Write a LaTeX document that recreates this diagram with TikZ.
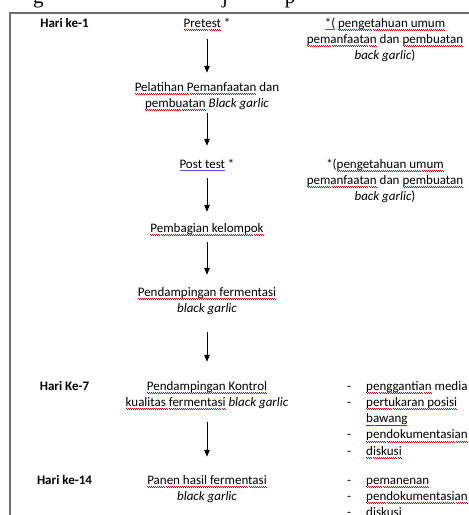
\documentclass[tikz,border=0pt]{standalone}
\usepackage{fontspec}
\setmainfont{Carlito}
\newfontfamily\capfont{Liberation Serif}
\usetikzlibrary{arrows.meta}
\definecolor{framegray}{RGB}{110,110,110}
\newsavebox\wbox
\newcommand\sqw[1]{\sbox\wbox{#1}\rlap{\color{red!85!black}\hbox to\wd\wbox{\xleaders\hbox{\rule[-2.6pt]{1pt}{0.55pt}\rule[-3.3pt]{1pt}{0.55pt}}\hfil}}\usebox\wbox}
\newcommand\blu[1]{\sbox\wbox{#1}\rlap{\color{blue!70!white}\rule[-2.4pt]{\wd\wbox}{0.7pt}}\usebox\wbox}
\newcommand\ctab[1]{\begin{tabular}[t]{@{}c@{}}#1\end{tabular}}
\newcommand\ltab[1]{\begin{tabular}[t]{@{}l@{}l@{}}#1\end{tabular}}
\newcommand\dsh{\makebox[19pt][l]{-}}
\tikzset{
  txt/.style={font=\fontsize{13}{16.3}\selectfont, inner sep=0pt, anchor=base, text=black},
  lst/.style={txt, anchor=base west},
  hari/.style={txt, font=\fontsize{13}{16.3}\selectfont\bfseries},
  arr/.style={line width=0.9pt, -{Triangle[width=5.5pt,length=7pt]}},
  frame/.style={line width=1.3pt, draw=framegray},
  capnode/.style={font=\capfont\fontsize{21}{24}\selectfont, inner sep=0pt, anchor=base}
}
\begin{document}
\begin{tikzpicture}[x=1pt,y=-1pt]
\useasboundingbox (0,0) rectangle (469,515);
% cropped caption above the frame
\begin{scope}
\clip (0,0) rectangle (469,11.5);
\node[capnode] (cg) at (38.5,3.2) {g};
\node[capnode] (cj) at (225,3.2) {j};
\node[capnode] (cp) at (290,3.2) {p};
\end{scope}
% frame
\draw[frame] (10,516) -- (10,13) -- (470,13);
% day labels
\node[hari] (h1) at (64.5,27) {Hari ke-1};
\node[hari] (h7) at (64.5,390) {Hari Ke-7};
\node[hari] (h14) at (64.5,484) {Hari ke-14};
% central steps
\node[txt] (pre) at (207,27) {\ctab{\sqw{Pretest} *}};
\node[txt] (pel) at (207,91) {\ctab{\sqw{Pelatihan Pemanfaatan} dan\\ \sqw{pembuatan} \textit{Black garlic}}};
\node[txt] (post) at (207,168) {\ctab{\blu{Post test} *}};
\node[txt] (bag) at (207,232) {\ctab{\sqw{Pembagian kelompok}}};
\node[txt] (pfer) at (207,296) {\ctab{\sqw{Pendampingan fermentasi}\\ \textit{black garlic}}};
\node[txt] (kon) at (207,390) {\ctab{\sqw{Pendampingan Kontrol}\\ \sqw{kualitas fermentasi} \textit{black garlic}}};
\node[txt] (pan) at (207,484) {\ctab{\sqw{Panen hasil fermentasi}\\ \textit{black garlic}}};
% notes
\node[txt] (n1) at (385,27) {\ctab{\blu{*(} \sqw{pengetahuan umum}\\ \sqw{pemanfaatan} dan \sqw{pembuatan}\\ \textit{back garlic})}};
\node[txt] (n2) at (385,168) {\ctab{*(\sqw{pengetahuan umum}\\ \sqw{pemanfaatan} dan \sqw{pembuatan}\\ \textit{back garlic})}};
% lists
\node[lst] (l1) at (347,390) {\ltab{\dsh & \sqw{penggantian} media\\ \dsh & \sqw{pertukaran posisi}\\ & \sqw{bawang}\\ \dsh & \sqw{pendokumentasian}\\ \dsh & \sqw{diskusi}}};
\node[lst] (l2) at (347,484) {\ltab{\dsh & \sqw{pemanenan}\\ \dsh & \sqw{pendokumentasian}\\ \dsh & \sqw{diskusi}}};
% connectors
\draw[arr, shorten <=7.1pt, shorten >=6.6pt] (pre.south) -- (pel.north);
\draw[arr, shorten <=0.8pt, shorten >=10.6pt] (pel.south) -- (post.north);
\draw[arr, shorten <=5.1pt, shorten >=8.6pt] (post.south) -- (bag.north);
\draw[arr, shorten <=5.1pt, shorten >=9.6pt] (bag.south) -- (pfer.north);
\draw[arr, shorten <=14.8pt, shorten >=16.6pt] (pfer.south) -- (kon.north);
\draw[arr, shorten <=10.8pt, shorten >=15.6pt] (kon.south) -- (pan.north);
\end{tikzpicture}
\end{document}
